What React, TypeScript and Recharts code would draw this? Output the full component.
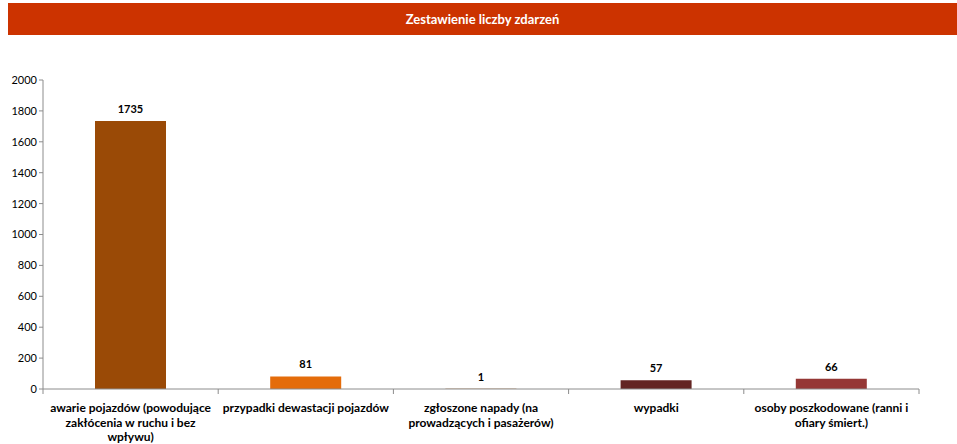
import { BarChart, Bar, XAxis, YAxis, Cell, LabelList } from "recharts"

const categories = [
    "awarie pojazdów (powodujące\nzakłócenia w ruchu i bez\nwpływu)",
    "przypadki dewastacji pojazdów",
    "zgłoszone napady (na\nprowadzących i pasażerów)",
    "wypadki",
    "osoby poszkodowane (ranni i\nofiary śmiert.)",
]
const counts = [1735, 81, 1, 57, 66]
const barColors = ["#9A4A06", "#E46C0A", "#984807", "#632523", "#953735"]
const yTicks = [0, 200, 400, 600, 800, 1000, 1200, 1400, 1600, 1800, 2000]

const data = categories.map((name, i) => ({ name, value: counts[i] }))

const FONT = "Lato, 'Open Sans', sans-serif"

function CategoryTick(props: any) {
    const { x, y, payload, index } = props
    const half = 876 / categories.length / 2
    const lines = String(payload.value).split("\n")
    return (
        <g>
            <line x1={x - half} y1={y - 8} x2={x - half} y2={y - 3} stroke="#8c8c8c" />
            {index === categories.length - 1 && (
                <line x1={x + half} y1={y - 8} x2={x + half} y2={y - 3} stroke="#8c8c8c" />
            )}
            <text x={x} y={y + 15} textAnchor="middle" fontFamily={FONT} fontSize={12} fontWeight="bold" fill="#000">
                {lines.map((l, i) => (
                    <tspan key={i} x={x} dy={i === 0 ? 0 : 14.5}>{l}</tspan>
                ))}
            </text>
        </g>
    )
}

export default function App() {
    return (
        <div style={{ position: "absolute", left: 0, top: 0, width: 957, height: 444, background: "#fff" }}>
            <div
                style={{
                    position: "absolute", left: 8, top: 3, width: 949, height: 32,
                    background: "#CC3300", color: "#fff", fontFamily: FONT, fontWeight: "bold",
                    fontSize: 13, display: "flex", alignItems: "center", justifyContent: "center",
                }}
            >
                Zestawienie liczby zdarzeń
            </div>
            <BarChart
                width={957}
                height={444}
                data={data}
                margin={{ top: 80, right: 38, bottom: 0, left: 3 }}
                style={{ position: "absolute", left: 0, top: 0 }}
            >
                <XAxis
                    dataKey="name"
                    height={55}
                    interval={0}
                    tickLine={false}
                    axisLine={{ stroke: "#8c8c8c" }}
                    tick={<CategoryTick />}
                />
                <YAxis
                    width={40}
                    domain={[0, 2000]}
                    ticks={yTicks}
                    interval={0}
                    axisLine={{ stroke: "#8c8c8c" }}
                    tickLine={{ stroke: "#8c8c8c" }}
                    tickSize={4}
                    tick={{ fontFamily: FONT, fontSize: 11, fill: "#000" }}
                />
                <Bar dataKey="value" barSize={71} isAnimationActive={false}>
                    {data.map((d, i) => (
                        <Cell key={d.name} fill={barColors[i]} />
                    ))}
                    <LabelList
                        dataKey="value"
                        position="top"
                        offset={8}
                        style={{ fontFamily: FONT, fontSize: 11, fontWeight: "bold", fill: "#000" }}
                    />
                </Bar>
            </BarChart>
        </div>
    )
}
